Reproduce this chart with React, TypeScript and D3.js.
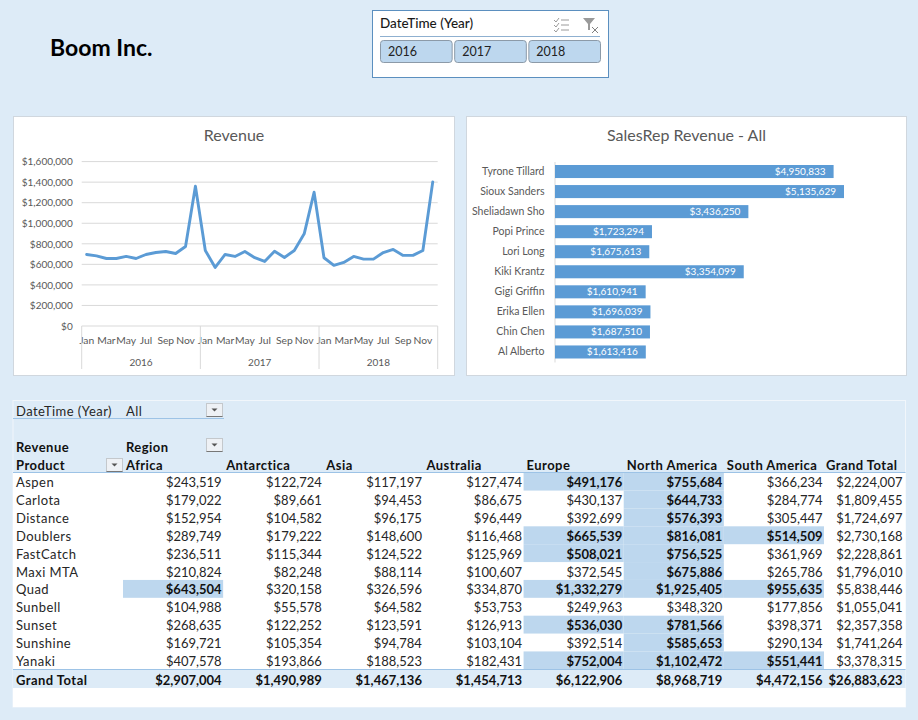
import React, { useEffect, useRef } from 'react';
import * as d3 from 'd3';

const years = ['2016', '2017', '2018'];
const months = ['Jan', 'Feb', 'Mar', 'Apr', 'May', 'Jun', 'Jul', 'Aug', 'Sep', 'Oct', 'Nov', 'Dec'];
const monthlyRevenue = [
  696000, 683000, 657000, 657000, 677000, 657000, 696000, 715000, 725000, 706000, 774000, 1360000,
  735000, 570000, 696000, 677000, 725000, 665000, 628000, 728000, 667000, 735000, 897000, 1302000,
  664000, 590000, 619000, 677000, 651000, 651000, 715000, 745000, 687000, 687000, 735000, 1403000,
];
const revenueTicks = [0, 200000, 400000, 600000, 800000, 1000000, 1200000, 1400000, 1600000];

const salesReps = [
  'Tyrone Tillard', 'Sioux Sanders', 'Sheliadawn Sho', 'Popi Prince', 'Lori Long',
  'Kiki Krantz', 'Gigi Griffin', 'Erika Ellen', 'Chin Chen', 'Al Alberto',
];
const salesRepRevenue = [
  4950833, 5135629, 3436250, 1723294, 1675613, 3354099, 1610941, 1696039, 1687510, 1613416,
];

const products = [
  'Aspen', 'Carlota', 'Distance', 'Doublers', 'FastCatch', 'Maxi MTA',
  'Quad', 'Sunbell', 'Sunset', 'Sunshine', 'Yanaki',
];
const regions = ['Africa', 'Antarctica', 'Asia', 'Australia', 'Europe', 'North America', 'South America'];
const africa = [243519, 179022, 152954, 289749, 236511, 210824, 643504, 104988, 268635, 169721, 407578];
const antarctica = [122724, 89661, 104582, 179222, 115344, 82248, 320158, 55578, 122252, 105354, 193866];
const asia = [117197, 94453, 96175, 148600, 124522, 88114, 326596, 64582, 123591, 94784, 188523];
const australia = [127474, 86675, 96449, 116468, 125969, 100607, 334870, 53753, 126913, 103104, 182431];
const europe = [491176, 430137, 392699, 665539, 508021, 372545, 1332279, 249963, 536030, 392514, 752004];
const northAmerica = [755684, 644733, 576393, 816081, 756525, 675886, 1925405, 348320, 781566, 585653, 1102472];
const southAmerica = [366234, 284774, 305447, 514509, 361969, 265786, 955635, 177856, 398371, 290134, 551441];
const productTotals = [2224007, 1809455, 1724697, 2730168, 2228861, 1796010, 5838446, 1055041, 2357358, 1741264, 3378315];
const regionTotals = [2907004, 1490989, 1467136, 1454713, 6122906, 8968719, 4472156];
const grandTotal = 26883623;
const highlightFrom = 450000;

const BG = '#ddebf7';
const HIGHLIGHT = '#bdd7ee';
const BLUE = '#5b9bd5';
const RULE = '#9dc3e6';
const GREY = '#595959';
const CHART_FONT = 'Lato, sans-serif';
const TABLE_FONT = 'Lato, sans-serif';

const money = d3.format('$,');

type Sel = d3.Selection<SVGGElement, unknown, null, undefined>;

function drawHeader(g: Sel) {
  g.append('text').attr('x', 50).attr('y', 56).attr('font-family', CHART_FONT)
    .attr('font-size', 23).attr('font-weight', 700).attr('fill', '#000').text('Boom Inc.');

  // slicer
  g.append('rect').attr('x', 372.5).attr('y', 10.5).attr('width', 236).attr('height', 67)
    .attr('fill', '#fff').attr('stroke', '#5b8fbf');
  g.append('text').attr('x', 380).attr('y', 28).attr('font-family', CHART_FONT)
    .attr('font-size', 13.5).attr('font-weight', 500).attr('fill', '#1a1a1a').text('DateTime (Year)');
  g.append('line').attr('x1', 380).attr('x2', 600).attr('y1', 36.5).attr('y2', 36.5).attr('stroke', '#8fb0d0');

  const buttons = d3.scaleBand<string>().domain(years).range([380, 600]).paddingInner(0.034);
  years.forEach(y => {
    g.append('rect').attr('x', buttons(y)! + 0.5).attr('y', 40.5)
      .attr('width', buttons.bandwidth()).attr('height', 22).attr('rx', 3)
      .attr('fill', HIGHLIGHT).attr('stroke', '#8c9aa8');
    g.append('text').attr('x', buttons(y)! + 8).attr('y', 56).attr('font-family', CHART_FONT)
      .attr('font-size', 12.5).attr('fill', '#222').text(y);
  });

  // slicer icons
  const icons = g.append('g').attr('fill', 'none').attr('stroke', '#9a9a9a');
  [20, 25, 30].forEach(y => {
    icons.append('line').attr('x1', 561).attr('x2', 569).attr('y1', y).attr('y2', y);
    icons.append('path').attr('d', `M554 ${y}l2 2l3 -4`);
  });
  g.append('path').attr('d', 'M583 18h12l-5 6v6h-2v-6z').attr('fill', '#9a9a9a');
  icons.append('path').attr('d', 'M592 27l6 6M598 27l-6 6').attr('stroke', '#808080');
}

function drawPanel(g: Sel, x: number, width: number, title: string) {
  g.append('rect').attr('x', x).attr('y', 116.5).attr('width', width).attr('height', 259)
    .attr('fill', '#fff').attr('stroke', '#d0d7de');
  g.append('text').attr('x', x + width / 2).attr('y', 141).attr('text-anchor', 'middle')
    .attr('font-family', CHART_FONT).attr('font-size', 16).attr('fill', GREY).text(title);
}

function drawLineChart(g: Sel) {
  drawPanel(g, 13.5, 441, 'Revenue');

  const categories = d3.range(monthlyRevenue.length);
  const x = d3.scaleBand<number>().domain(categories).range([81.7, 437.7]);
  const y = d3.scaleLinear().domain([0, 1600000]).range([326, 161.6]);

  const yAxis = g.append('g').attr('transform', 'translate(81.7,0)')
    .call(d3.axisLeft(y).tickValues(revenueTicks).tickFormat(d => money(d as number)).tickSize(0).tickPadding(9));
  yAxis.select('.domain').remove();
  yAxis.selectAll('text').attr('font-family', CHART_FONT).attr('font-size', 10).attr('fill', GREY);

  g.append('g').selectAll('line').data(revenueTicks).join('line')
    .attr('x1', 81.7).attr('x2', 437.7).attr('y1', d => y(d)).attr('y2', d => y(d))
    .attr('stroke', '#d9d9d9');

  // month labels, every second one, and the year level below them
  const monthAxis = g.append('g').attr('transform', 'translate(0,326)')
    .call(d3.axisBottom(x)
      .tickValues(categories.filter(i => i % 2 === 0))
      .tickFormat(i => months[(i as number) % 12])
      .tickSize(0).tickPadding(10.5));
  monthAxis.select('.domain').remove();
  monthAxis.selectAll('text').attr('font-family', CHART_FONT).attr('font-size', 10.3).attr('fill', GREY);

  const yearX = d3.scaleBand<string>().domain(years).range([81.7, 437.7]);
  g.append('g').selectAll('text').data(years).join('text')
    .attr('x', d => yearX(d)! + yearX.bandwidth() / 2).attr('y', 365.5).attr('text-anchor', 'middle')
    .attr('font-family', CHART_FONT).attr('font-size', 10).attr('fill', GREY).text(d => d);
  g.append('g').selectAll('line').data([...years.map(d => yearX(d)!), 437.7]).join('line')
    .attr('x1', d => d).attr('x2', d => d).attr('y1', 326).attr('y2', 369).attr('stroke', '#d9d9d9');

  const line = d3.line<number>()
    .x((_, i) => x(i)! + x.bandwidth() / 2)
    .y(d => y(d));
  g.append('path').datum(monthlyRevenue).attr('fill', 'none').attr('stroke', BLUE)
    .attr('stroke-width', 2.9).attr('stroke-linejoin', 'round').attr('stroke-linecap', 'round')
    .attr('d', line);
}

function drawBarChart(g: Sel) {
  drawPanel(g, 466.5, 440, 'SalesRep Revenue - All');

  const x = d3.scaleLinear().domain([0, 5135629]).range([555, 844]);
  const y = d3.scaleBand<string>().domain(salesReps).range([161.5, 362]).paddingInner(0.35).paddingOuter(0.175);

  const yAxis = g.append('g').attr('transform', 'translate(554.5,0)')
    .call(d3.axisLeft(y).tickSize(0).tickPadding(10));
  yAxis.select('.domain').attr('stroke', '#d9d9d9');
  yAxis.selectAll('text').attr('font-family', CHART_FONT).attr('font-size', 10.5).attr('fill', GREY);

  g.append('g').selectAll('rect').data(salesRepRevenue).join('rect')
    .attr('x', x(0)).attr('y', (_, i) => y(salesReps[i])!)
    .attr('width', d => x(d) - x(0)).attr('height', y.bandwidth()).attr('fill', BLUE);

  g.append('g').selectAll('text').data(salesRepRevenue).join('text')
    .attr('x', d => x(d) - 8).attr('y', (_, i) => y(salesReps[i])! + y.bandwidth() / 2)
    .attr('dy', '0.35em').attr('text-anchor', 'end')
    .attr('font-family', CHART_FONT).attr('font-size', 10).attr('fill', '#fff').text(d => money(d));
}

function filterButton(g: Sel, x: number, y: number) {
  g.append('rect').attr('x', x).attr('y', y).attr('width', 16).attr('height', 13)
    .attr('fill', '#eef1f5').attr('stroke', '#c4c8cc');
  g.append('line').attr('x1', x).attr('x2', x + 16).attr('y1', y + 13).attr('y2', y + 13).attr('stroke', '#777');
  g.append('path').attr('d', `M${x + 5} ${y + 5}h6l-3 3z`).attr('fill', '#555');
}

function drawTable(g: Sel) {
  const columns = [africa, antarctica, asia, australia, europe, northAmerica, southAmerica];
  const left = 13;
  const right = 905.5;
  const x = d3.scaleBand<string>().domain(regions).range([123, 824]);
  const y = d3.scaleBand<string>().domain(products).range([472.7, 669.3]);
  const totalX = 824;
  // words are spaced wider than the numbers in the reference
  const text = (tx: number, ty: number, label: string, bold = false, anchor = 'start', spacing = 0.45) =>
    g.append('text').attr('x', tx).attr('y', ty).attr('text-anchor', anchor)
      .attr('font-family', TABLE_FONT).attr('font-size', 13).attr('letter-spacing', spacing)
      .attr('font-weight', bold ? 700 : 400).attr('fill', bold ? '#111' : '#262626').text(label);
  const amount = (tx: number, ty: number, value: number, bold = false) =>
    text(tx, ty, money(value), bold, 'end', 0);

  g.append('rect').attr('x', left).attr('y', 400.5).attr('width', right - left).attr('height', 306.5)
    .attr('fill', BG).attr('stroke', '#f1f6fb');
  g.append('rect').attr('x', left).attr('y', 472.7).attr('width', right - left).attr('height', 196.6).attr('fill', '#fff');
  g.append('rect').attr('x', left).attr('y', 688).attr('width', right - left).attr('height', 19).attr('fill', '#fff');

  // page filter row
  text(16, 416, 'DateTime (Year)');
  text(126, 416, 'All');
  g.append('line').attr('x1', left).attr('x2', 224).attr('y1', 418.5).attr('y2', 418.5).attr('stroke', RULE);
  filterButton(g, 206.5, 403.5);

  // column headers
  text(16, 452, 'Revenue', true);
  text(126, 452, 'Region', true);
  text(16, 470, 'Product', true);
  filterButton(g, 206.5, 438.5);
  filterButton(g, 106.5, 458.5);
  regions.forEach(r => text(x(r)! + 3, 470, r, true));
  text(totalX + 2, 470, 'Grand Total', true);

  // body rows
  products.forEach((p, row) => {
    const top = y(p)!;
    const base = top + y.bandwidth() / 2 + 5.5;
    text(16, base, p);
    regions.forEach((r, c) => {
      const value = columns[c][row];
      const on = value >= highlightFrom;
      if (on) {
        g.append('rect').attr('x', x(r)!).attr('y', top).attr('width', x.bandwidth())
          .attr('height', y.bandwidth()).attr('fill', HIGHLIGHT);
      }
      amount(x(r)! + x.bandwidth() - 1.5, base, value, on);
    });
    amount(right - 3, base, productTotals[row]);
  });

  // grand total row
  g.append('rect').attr('x', left).attr('y', 669.3).attr('width', right - left).attr('height', 18.7).attr('fill', BG);
  text(16, 685, 'Grand Total', true);
  regions.forEach((r, c) => amount(x(r)! + x.bandwidth() - 1.5, 685, regionTotals[c], true));
  amount(right - 3, 685, grandTotal, true);

  [472.5, 669.5].forEach(ly => {
    g.append('line').attr('x1', left).attr('x2', right).attr('y1', ly).attr('y2', ly).attr('stroke', RULE);
  });
}

export default function App() {
  const svgRef = useRef<SVGSVGElement>(null);

  useEffect(() => {
    if (!svgRef.current) return;
    const svg = d3.select(svgRef.current);
    svg.selectAll('*').remove();
    const g = svg.append('g') as unknown as Sel;
    drawHeader(g);
    drawLineChart(g);
    drawBarChart(g);
    drawTable(g);
  }, []);

  return (
    <svg
      ref={svgRef}
      width={918}
      height={720}
      style={{ position: 'absolute', left: 0, top: 0, background: BG, display: 'block' }}
    />
  );
}
